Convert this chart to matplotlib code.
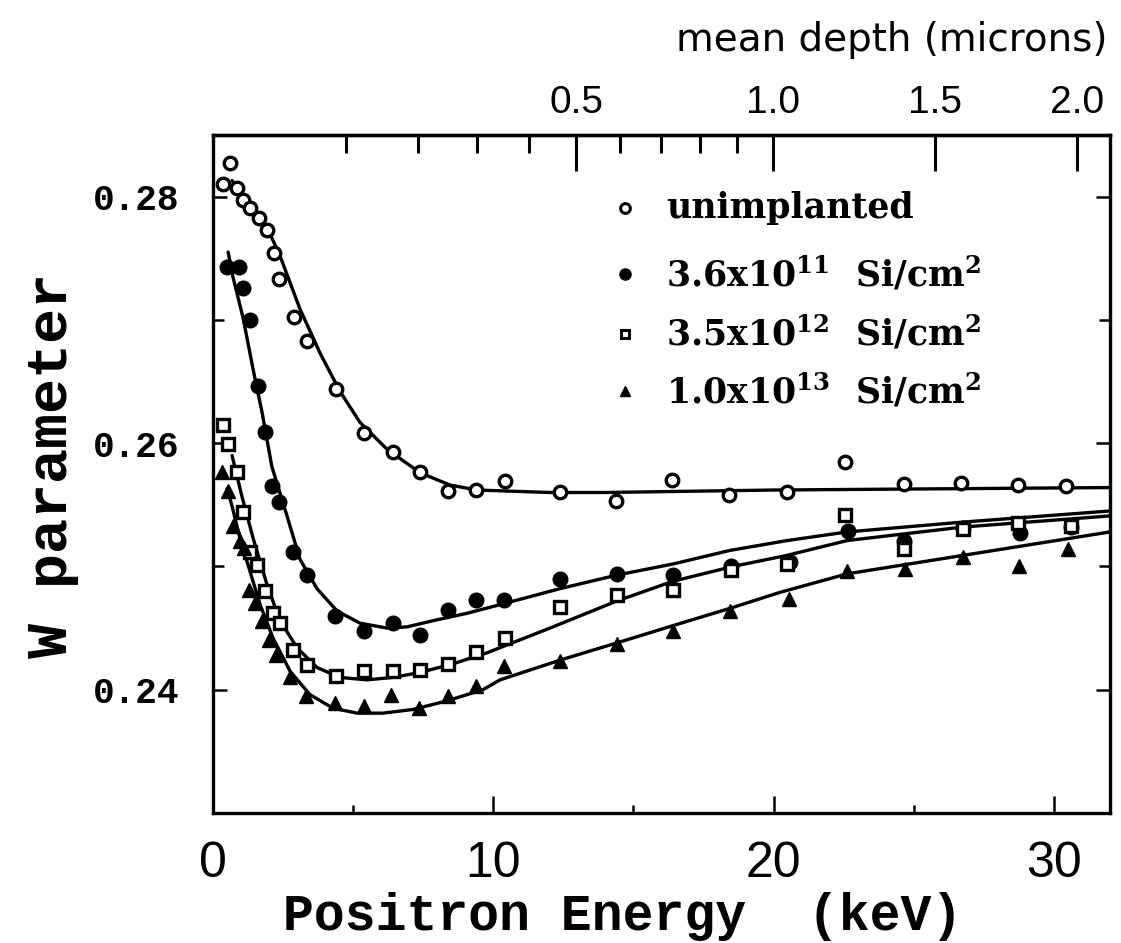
"""W parameter vs positron energy for Si-implanted samples."""

import numpy as np
import matplotlib

matplotlib.use("Agg")
import matplotlib.pyplot as plt
from matplotlib.ticker import FixedLocator, MultipleLocator, FormatStrFormatter

# measured points -----------------------------------------------------------
e_unimp = [0.36, 0.61, 0.86, 1.07, 1.32, 1.64, 1.93, 2.18, 2.35, 2.89, 3.35, 4.39, 5.39,
           6.42, 7.39, 8.38, 9.38, 10.42, 12.38, 14.38, 16.38, 18.41, 20.48, 22.55,
           24.65, 26.69, 28.72, 30.43]
w_unimp = [0.2810, 0.2827, 0.2807, 0.2797, 0.2791, 0.2783, 0.2773, 0.2754, 0.2733, 0.2702,
           0.2683, 0.2644, 0.2608, 0.2593, 0.2577, 0.2561, 0.2562, 0.2569, 0.2560, 0.2553,
           0.2570, 0.2558, 0.2560, 0.2585, 0.2567, 0.2568, 0.2566, 0.2565]

e_36e11 = [0.50, 0.93, 1.07, 1.32, 1.61, 1.86, 2.10, 2.35, 2.85, 3.35, 4.35, 5.39, 6.42,
           7.39, 8.38, 9.38, 10.38, 12.38, 14.41, 16.41, 18.48, 20.59, 22.65, 24.65,
           26.76, 28.79, 30.61]
w_36e11 = [0.2743, 0.2743, 0.2726, 0.2700, 0.2646, 0.2609, 0.2565, 0.2552, 0.2512, 0.2493,
           0.2460, 0.2448, 0.2454, 0.2444, 0.2465, 0.2473, 0.2473, 0.2490, 0.2494, 0.2493,
           0.2500, 0.2504, 0.2529, 0.2521, 0.2531, 0.2527, 0.2532]

e_35e12 = [0.36, 0.55, 0.86, 1.07, 1.32, 1.57, 1.86, 2.14, 2.39, 2.85, 3.35, 4.39, 5.39,
           6.42, 7.39, 8.38, 9.38, 10.42, 12.38, 14.41, 16.41, 18.48, 20.48, 22.55,
           24.65, 26.76, 28.72, 30.61]
w_35e12 = [0.2615, 0.2599, 0.2577, 0.2544, 0.2512, 0.2501, 0.2480, 0.2462, 0.2454, 0.2432,
           0.2420, 0.2411, 0.2415, 0.2415, 0.2416, 0.2421, 0.2431, 0.2442, 0.2467, 0.2477,
           0.2481, 0.2497, 0.2502, 0.2542, 0.2514, 0.2530, 0.2535, 0.2533]

e_10e13 = [0.32, 0.55, 0.72, 0.96, 1.10, 1.29, 1.50, 1.75, 2.00, 2.25, 2.75, 3.32, 4.35,
           5.39, 6.35, 7.35, 8.38, 9.38, 10.38, 12.38, 14.41, 16.41, 18.44, 20.55,
           22.60, 24.70, 26.76, 28.76, 30.50]
w_10e13 = [0.2577, 0.2561, 0.2533, 0.2521, 0.2515, 0.2481, 0.2470, 0.2456, 0.2440, 0.2428,
           0.2410, 0.2395, 0.2389, 0.2387, 0.2396, 0.2385, 0.2395, 0.2403, 0.2419, 0.2423,
           0.2437, 0.2448, 0.2464, 0.2474, 0.2496, 0.2498, 0.2508, 0.2500, 0.2514]

# fitted curves ------------------------------------------------------------
fe_unimp = [0.68, 1.21, 1.93, 2.39, 3.10, 3.82, 4.53, 5.24, 6.21, 7.39, 8.46, 9.42,
            12.0, 14.0, 20.0, 26.0, 32.0]
fw_unimp = [0.2813, 0.2797, 0.2775, 0.2752, 0.2709, 0.2673, 0.2642, 0.2617, 0.2595,
            0.2576, 0.2566, 0.2562, 0.2560, 0.2560, 0.2562, 0.2563, 0.2564]

fe_36e11 = [0.54, 0.71, 1.07, 1.43, 1.75, 2.10, 2.64, 3.10, 3.71, 4.42, 5.24, 6.21,
            6.92, 7.85, 9.06, 10.24, 12.38, 14.41, 16.41, 18.44, 20.48, 22.62, 26.76, 32.0]
fw_36e11 = [0.2755, 0.2735, 0.2702, 0.2660, 0.2625, 0.2581, 0.2541, 0.2506, 0.2482,
            0.2464, 0.2454, 0.2450, 0.2451, 0.2456, 0.2462, 0.2469, 0.2482, 0.2493,
            0.2502, 0.2513, 0.2521, 0.2528, 0.2536, 0.2545]

fe_35e12 = [0.68, 1.03, 1.43, 1.93, 2.39, 3.00, 3.71, 4.53, 5.49, 6.42, 7.39, 8.56,
            9.78, 12.02, 14.41, 16.41, 18.55, 20.48, 22.62, 26.76, 32.0]
fw_35e12 = [0.2590, 0.2557, 0.2523, 0.2485, 0.2456, 0.2434, 0.2418, 0.2410, 0.2408,
            0.2410, 0.2414, 0.2421, 0.2430, 0.2450, 0.2472, 0.2488, 0.2500, 0.2509,
            0.2521, 0.2532, 0.2541]

fe_10e13 = [0.50, 0.68, 0.96, 1.32, 1.68, 2.14, 2.75, 3.46, 4.28, 5.14, 6.06, 7.14,
            8.35, 9.63, 10.24, 12.38, 14.41, 16.41, 18.44, 20.23, 22.62, 26.76, 32.0]
fw_10e13 = [0.2563, 0.2549, 0.2523, 0.2496, 0.2469, 0.2442, 0.2415, 0.2396, 0.2385,
            0.2381, 0.2381, 0.2384, 0.2391, 0.2400, 0.2408, 0.2424, 0.2438, 0.2452,
            0.2466, 0.2479, 0.2494, 0.2509, 0.2528]

legend_labels = [
    "unimplanted",
    r"$\mathrm{3.6x10^{11}\ \ Si/cm^{2}}$",
    r"$\mathrm{3.5x10^{12}\ \ Si/cm^{2}}$",
    r"$\mathrm{1.0x10^{13}\ \ Si/cm^{2}}$",
]
depth_major = [0.5, 1.0, 1.5, 2.0]
depth_minor = [0.1, 0.2, 0.3, 0.4, 0.6, 0.7, 0.8, 0.9]

DEPTH_A = 0.0083  # mean depth (um) = A * E(keV)**1.6


def energy_to_depth(e):
    return DEPTH_A * np.clip(np.asarray(e, dtype=float), 0, None) ** 1.6


def depth_to_energy(z):
    return (np.clip(np.asarray(z, dtype=float), 0, None) / DEPTH_A) ** (1 / 1.6)


plt.rcParams["mathtext.fontset"] = "custom"
plt.rcParams["mathtext.rm"] = "DejaVu Serif:bold"
plt.rcParams["mathtext.it"] = "DejaVu Serif:bold"
plt.rcParams["mathtext.bf"] = "DejaVu Serif:bold"

NARROW = ["Liberation Sans Narrow", "Liberation Sans"]

fig = plt.figure(figsize=(11.21, 9.43), dpi=100)
ax = fig.add_axes([213 / 1121, 130 / 943, 897 / 1121, 678 / 943])

line_kw = dict(color="black", lw=2.4, solid_capstyle="round")
ax.plot(fe_unimp, fw_unimp, **line_kw)
ax.plot(fe_36e11, fw_36e11, **line_kw)
ax.plot(fe_35e12, fw_35e12, **line_kw)
ax.plot(fe_10e13, fw_10e13, **line_kw)

ax.plot(e_unimp, w_unimp, "o", ms=9, mfc="white", mec="black", mew=2.4, ls="none")
ax.plot(e_36e11, w_36e11, "o", ms=10.5, mfc="black", mec="black", ls="none")
ax.plot(e_35e12, w_35e12, "s", ms=8, mfc="white", mec="black", mew=2.4, ls="none")
ax.plot(e_10e13, w_10e13, "^", ms=10, mfc="black", mec="black", ls="none")

# legend drawn by hand
leg_y = [0.893, 0.795, 0.707, 0.622]
leg_style = [
    dict(marker="o", ms=7, mfc="white", mec="black", mew=2.2),
    dict(marker="o", ms=8, mfc="black", mec="black"),
    dict(marker="s", ms=6, mfc="white", mec="black", mew=2.2),
    dict(marker="^", ms=7.5, mfc="black", mec="black"),
]
for y, label, style in zip(leg_y, legend_labels, leg_style):
    ax.plot([0.459], [y], transform=ax.transAxes, ls="none", clip_on=False, **style)
    ax.text(0.505, y, label, transform=ax.transAxes, va="center", ha="left",
            fontsize=25, family="DejaVu Serif", fontweight="bold")

ax.set_xlim(0, 32)
ax.set_ylim(0.23, 0.285)

for side in ax.spines.values():
    side.set_linewidth(2.4)

ax.xaxis.set_major_locator(MultipleLocator(10))
ax.xaxis.set_minor_locator(MultipleLocator(5))
ax.yaxis.set_major_locator(FixedLocator([0.24, 0.26, 0.28]))
ax.yaxis.set_minor_locator(MultipleLocator(0.01))
ax.yaxis.set_major_formatter(FormatStrFormatter("%.2f"))

ax.tick_params(axis="x", which="both", direction="in", top=False, bottom=True,
               width=1.8, pad=20, labelsize=36, labelfontfamily=NARROW)
ax.tick_params(axis="x", which="major", length=12)
ax.tick_params(axis="x", which="minor", length=6)
ax.tick_params(axis="y", which="both", direction="in", left=True, right=True,
               width=1.8, pad=24, labelsize=26, labelfontfamily="Liberation Mono")
ax.tick_params(axis="y", which="major", length=10)
ax.tick_params(axis="y", which="minor", length=8)
for lab in ax.get_yticklabels():
    lab.set_fontweight("bold")

ax.set_xlabel("Positron Energy  (keV)", family="Liberation Mono", fontweight="bold",
              fontsize=37)
ax.xaxis.label.set_va("center")
ax.xaxis.set_label_coords(0.457, -0.152)
ax.set_ylabel("W parameter", family="Liberation Mono", fontweight="bold", fontsize=42)
ax.yaxis.label.set_va("center")
ax.yaxis.set_label_coords(-0.180, 0.513)

# top axis: mean depth
sec = ax.secondary_xaxis("top", functions=(energy_to_depth, depth_to_energy))
sec.spines["top"].set_linewidth(2.4)
sec.xaxis.set_major_locator(FixedLocator(depth_major))
sec.xaxis.set_minor_locator(FixedLocator(depth_minor))
sec.xaxis.set_major_formatter(FormatStrFormatter("%.1f"))
sec.tick_params(axis="x", which="both", direction="in", width=2.2, pad=10,
                labelsize=28, labelfontfamily=NARROW)
sec.tick_params(axis="x", which="major", length=26)
sec.tick_params(axis="x", which="minor", length=13)

fig.text(1108 / 1121, 1 - 40 / 943, "mean depth (microns)", ha="right", va="center",
         family="DejaVu Sans", fontsize=28)

fig.savefig("out.png", dpi=100)
